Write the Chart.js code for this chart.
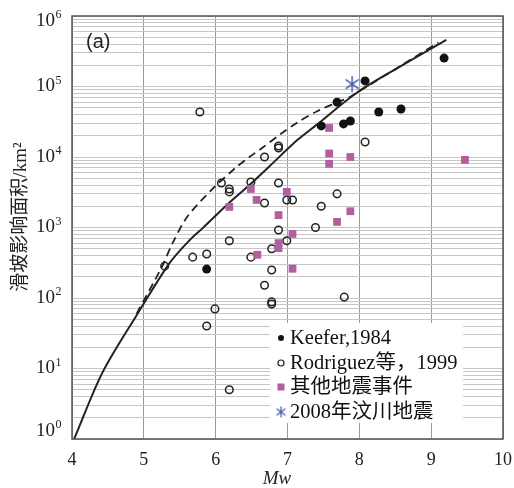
<!DOCTYPE html>
<html>
<head>
<meta charset="utf-8">
<script src="https://cdn.jsdelivr.net/npm/chart.js@4/dist/chart.umd.min.js"></script>
<style>
  html, body { margin: 0; padding: 0; background: #fff; }
  #wrap { width: 514px; height: 488px; }
</style>
</head>
<body>
<div id="wrap"><canvas id="chart" width="514" height="488"></canvas></div>
<script>
// --- data ---
const mwTicks = [4, 5, 6, 7, 8, 9, 10];
const areaDecades = [0, 1, 2, 3, 4, 5, 6];

// Keefer, 1984 (filled dots)
const keeferMw   = [5.875, 7.47, 7.69, 7.78, 7.875, 8.08, 8.27, 8.58, 9.18];
const keeferArea = [257, 27600, 60000, 29500, 32400, 120000, 43500, 48000, 253000];

// Rodriguez et al., 1999 (open circles)
const rodMw   = [5.29, 5.68, 5.78, 5.875, 5.875, 5.99, 6.08, 6.19, 6.19, 6.19, 6.19, 6.49, 6.49,
                 6.68, 6.68, 6.68, 6.78, 6.78, 6.78, 6.78, 6.875, 6.875, 6.875, 6.875,
                 6.99, 7.07, 6.99, 7.39, 7.47, 7.69, 7.79, 8.08];
const rodArea = [283, 380, 43500, 420, 40, 70, 4270, 3520, 3200, 650, 5.0, 4420, 380,
                 10000, 2230, 152, 500, 250, 88, 82, 14300, 13400, 4270, 920,
                 2460, 2460, 650, 1000, 2000, 3000, 103, 16300];

// other earthquake events (squares)
const otherMw   = [6.19, 6.49, 6.57, 6.58, 6.875, 6.875, 6.875, 6.99, 7.07, 7.07,
                   7.58, 7.58, 7.58, 7.69, 7.875, 7.875, 9.47];
const otherArea = [1960, 3520, 2460, 410, 1500, 600, 510, 3200, 810, 260,
                   25800, 11200, 8000, 1200, 10000, 1700, 9100];

// 2008 Wenchuan
const wenchuanMw = [7.9];
const wenchuanArea = [108000];

// upper-bound curves
const solidMw   = [4.03, 4.42, 4.90, 5.36, 5.64, 5.82, 6.17, 6.47, 6.75, 7.14, 7.40, 7.96, 8.56, 9.21];
const solidArea = [1.0, 8.6, 57, 315, 665, 980, 2150, 4000, 7400, 17500, 28300, 81000, 190000, 457000];
const dashMw    = [4.90, 5.25, 5.40, 5.60, 5.94, 6.29, 6.47, 6.65, 6.90, 7.14, 7.42, 7.65, 7.86, 7.96, 8.56, 9.10];
const dashArea  = [60, 275, 600, 1400, 3400, 7200, 10000, 13500, 21000, 31000, 45000, 57000, 70000, 81000, 192000, 420000];

const legendLabels = ['Keefer,1984', 'Rodriguez等，1999', '其他地震事件', '2008年汶川地震'];
const yTitle = '滑坡影响面积/km²';
const xTitle = 'Mw';
const panelLabel = '(a)';

const SERIF = '"Liberation Serif", "Noto Sans CJK SC", serif';
const PINK = '#b25fa0';
const BLUE = '#4b5cae';

function pts(xs, ys) { return xs.map((x, i) => ({ x: x, y: ys[i] })); }

function starCanvas(size, lw) {
    const c = document.createElement('canvas');
    c.width = size; c.height = size;
    const g = c.getContext('2d');
    const m = size / 2, r = size / 2 - 1;
    g.strokeStyle = BLUE;
    g.lineWidth = lw;
    g.beginPath();
    g.moveTo(m, m - r); g.lineTo(m, m + r);
    const dx = r * Math.cos(Math.PI / 5), dy = r * Math.sin(Math.PI / 5);
    g.moveTo(m - dx, m - dy); g.lineTo(m + dx, m + dy);
    g.moveTo(m - dx, m + dy); g.lineTo(m + dx, m - dy);
    g.stroke();
    return c;
}
const starBig = starCanvas(18, 1.5);
const starSmall = starCanvas(13, 1.3);

// minor + major ticks for the log axis
const yTickValues = [];
areaDecades.forEach(e => {
    if (e === 6) { yTickValues.push(1e6); return; }
    for (let k = 1; k <= 9; k++) yTickValues.push(k * Math.pow(10, e));
});

const decorPlugin = {
    id: 'decor',
    afterDraw(chart) {
        const ctx = chart.ctx;
        const a = chart.chartArea;
        const ys = chart.scales.y;
        ctx.save();

        // frame
        ctx.strokeStyle = '#555';
        ctx.lineWidth = 1.5;
        ctx.strokeRect(a.left, a.top, a.right - a.left, a.bottom - a.top);

        // y tick labels 10^n
        ctx.fillStyle = '#222';
        areaDecades.forEach(e => {
            let py = ys.getPixelForValue(Math.pow(10, e));
            if (e === 0) py -= 8;
            if (e === 6) py += 5;
            ctx.font = '19px ' + SERIF;
            ctx.textAlign = 'right';
            ctx.textBaseline = 'middle';
            ctx.fillText('10', 55, py);
            ctx.font = '12px ' + SERIF;
            ctx.textAlign = 'left';
            ctx.fillText(String(e), 55.5, py - 6);
        });

        // axis titles
        ctx.font = 'italic 19px ' + SERIF;
        ctx.textAlign = 'center';
        ctx.textBaseline = 'middle';
        ctx.fillText(xTitle, 277, 479);

        ctx.save();
        ctx.translate(21, 217);
        ctx.rotate(-Math.PI / 2);
        ctx.font = '19px ' + SERIF;
        ctx.fillText(yTitle, 0, 0);
        ctx.restore();

        // panel label
        ctx.font = '20px "Liberation Sans", Arial, sans-serif';
        ctx.textAlign = 'left';
        ctx.fillText(panelLabel, 86, 42);

        // legend box
        const lx = 270, ly = 323, lw = 193, lh = 100;
        ctx.fillStyle = '#fff';
        ctx.fillRect(lx, ly, lw, lh);
        const rows = [338, 363, 387, 412];
        const mx = 281;
        ctx.fillStyle = '#111';
        ctx.beginPath(); ctx.arc(mx, rows[0], 3, 0, Math.PI * 2); ctx.fill();
        ctx.strokeStyle = '#222'; ctx.lineWidth = 1.2;
        ctx.beginPath(); ctx.arc(mx, rows[1], 3, 0, Math.PI * 2); ctx.stroke();
        ctx.fillStyle = PINK;
        ctx.fillRect(mx - 3.5, rows[2] - 3.5, 7, 7);
        ctx.drawImage(starSmall, mx - 6.5, rows[3] - 6.5);

        ctx.fillStyle = '#111';
        ctx.font = '20.5px ' + SERIF;
        ctx.textAlign = 'left';
        ctx.textBaseline = 'middle';
        legendLabels.forEach((t, i) => ctx.fillText(t, 290, rows[i] + 1));

        ctx.restore();
    }
};

new Chart(document.getElementById('chart'), {
    type: 'scatter',
    data: {
        datasets: [
            {
                label: legendLabels[3],
                data: pts(wenchuanMw, wenchuanArea),
                pointStyle: starBig,
                pointRadius: 9
            },
            {
                label: legendLabels[0],
                data: pts(keeferMw, keeferArea),
                pointStyle: 'circle',
                pointRadius: 4.5,
                backgroundColor: '#111',
                borderColor: '#111',
                borderWidth: 0
            },
            {
                label: legendLabels[2],
                data: pts(otherMw, otherArea),
                pointStyle: 'rect',
                pointRadius: 5.5,
                backgroundColor: PINK,
                borderColor: PINK,
                borderWidth: 0
            },
            {
                label: legendLabels[1],
                data: pts(rodMw, rodArea),
                pointStyle: 'circle',
                pointRadius: 3.8,
                backgroundColor: 'rgba(0,0,0,0)',
                borderColor: '#222',
                borderWidth: 1.5
            },
            {
                label: 'solid',
                type: 'line',
                data: pts(solidMw, solidArea),
                showLine: true,
                borderColor: '#222',
                borderWidth: 2,
                pointRadius: 0,
                tension: 0.3,
                fill: false
            },
            {
                label: 'dashed',
                type: 'line',
                data: pts(dashMw, dashArea),
                showLine: true,
                borderColor: '#222',
                borderWidth: 1.8,
                borderDash: [8, 5],
                pointRadius: 0,
                tension: 0.3,
                fill: false
            }
        ]
    },
    options: {
        responsive: false,
        animation: false,
        layout: { padding: { top: 16, right: 11, left: 0, bottom: 0 } },
        plugins: {
            legend: { display: false },
            tooltip: { enabled: false }
        },
        scales: {
            x: {
                type: 'linear',
                min: 4,
                max: 10,
                afterBuildTicks: scale => { scale.ticks = mwTicks.map(v => ({ value: v })); },
                afterFit: scale => {
                    scale.height = 49;
                    scale.paddingLeft = 0;
                    scale.paddingRight = 0;
                },
                grid: { color: '#9a9a9a', lineWidth: 1, drawTicks: false },
                border: { display: false },
                ticks: {
                    padding: 10,
                    color: '#222',
                    font: { family: SERIF, size: 18 }
                }
            },
            y: {
                type: 'logarithmic',
                min: 1,
                max: 1e6,
                afterBuildTicks: scale => { scale.ticks = yTickValues.map(v => ({ value: v })); },
                afterFit: scale => {
                    scale.width = 72;
                    scale.paddingTop = 0;
                    scale.paddingBottom = 0;
                },
                grid: { color: '#c6c6c6', lineWidth: 1, drawTicks: false },
                border: { display: false },
                ticks: {
                    display: false,
                    autoSkip: false,
                    callback: () => ''
                }
            }
        }
    },
    plugins: [decorPlugin]
});
</script>
</body>
</html>
